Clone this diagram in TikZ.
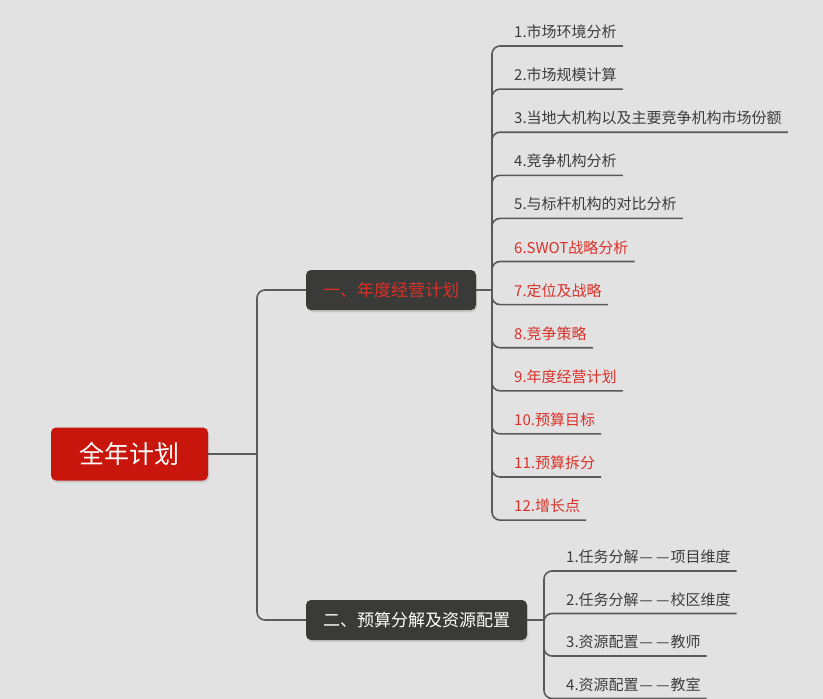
\documentclass[tikz,border=0pt]{standalone}
\usepackage{fontspec}
\setmainfont{Noto Sans CJK SC}
\usepackage{xcolor}
\usetikzlibrary{shadows}
\definecolor{bggray}{RGB}{226,226,226}
\definecolor{rootred}{RGB}{200,22,12}
\definecolor{darkbox}{RGB}{58,58,56}
\definecolor{txtred}{RGB}{216,50,42}
\definecolor{txtgray}{RGB}{60,60,60}
\definecolor{linegray}{RGB}{90,90,90}
\newcommand{\dd}{\kern1pt{—}\kern3pt{—}\kern1pt}

\begin{document}
\begin{tikzpicture}[x=1pt,y=-1pt,
	link/.style={draw=linegray, line width=1.6pt, rounded corners=8pt},
	mainbox/.style={fill=darkbox, rounded corners=5pt, minimum height=40pt, inner xsep=16pt, font=\fontsize{17}{20}\selectfont, drop shadow={opacity=0.25, shadow xshift=1pt, shadow yshift=-2pt}},
	item/.style={anchor=south west, inner xsep=6pt, inner ysep=7pt, font=\fontsize{15}{18}\selectfont}]
				% Background
				\fill[bggray] (0,0) rectangle (823,699);
				\useasboundingbox (0,0) rectangle (823,699);
				
				% Root
				\node[fill=rootred, text=white, rounded corners=5pt, minimum width=157pt, minimum height=53pt, font=\fontsize{25}{28}\selectfont, drop shadow={opacity=0.25, shadow xshift=1pt, shadow yshift=-2pt}] (root) at (129.5,454) {全年计划};
				
				% Branches
				\node[mainbox, text=txtred, minimum width=170pt] (plan) at (391,290) {一、年度经营计划};
				\node[mainbox, text=white, minimum width=221pt] (budget) at (416.5,620) {二、预算分解及资源配置};
				\coordinate (t0) at (257,454);
				\draw[link] (root.east) -- (t0);
				\draw[link] (t0) |- (plan.west);
				\draw[link] (t0) |- (budget.west);
				
				% Items of plan
				\coordinate (t1) at (492,290);
				\draw[link] (plan.east) -- (t1);
				\foreach \i/\col/\txt in {1/txtgray/1.市场环境分析, 2/txtgray/2.市场规模计算, 3/txtgray/3.当地大机构以及主要竞争机构市场份额, 4/txtgray/4.竞争机构分析, 5/txtgray/5.与标杆机构的对比分析, 6/txtred/6.SWOT战略分析, 7/txtred/7.定位及战略, 8/txtred/8.竞争策略, 9/txtred/9.年度经营计划, 10/txtred/10.预算目标, 11/txtred/11.预算拆分, 12/txtred/12.增长点} {
					\node[item, text=\col] (p\i) at (508,{46+43.1*(\i-1)}) {\txt};
					\draw[link] (t1) |- (p\i.south east);
				}
				
				% Items of budget
				\coordinate (t2) at (544,620);
				\draw[link] (budget.east) -- (t2);
				\foreach \i/\txt in {1/1.任务分解\dd 项目维度, 2/2.任务分解\dd 校区维度, 3/3.资源配置\dd 教师, 4/4.资源配置\dd 教室} {
					\node[item, text=txtgray] (b\i) at (560,{571+42.5*(\i-1)}) {\txt};
					\draw[link] (t2) |- (b\i.south east);
				}
			\end{tikzpicture}
\end{document}
